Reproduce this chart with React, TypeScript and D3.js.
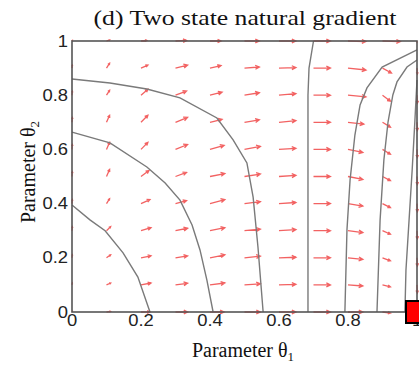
import React from 'react';
import * as d3 from 'd3';

// grid of the quiver (theta1 across, theta2 up)
const gridX = [0, 0.1, 0.2, 0.3, 0.4, 0.5, 0.6, 0.7, 0.8, 0.9, 1.0];
const gridY = [0, 0.1, 0.2, 0.3, 0.4, 0.5, 0.6, 0.7, 0.8, 0.9, 1.0];

// natural gradient components, one row per theta2 value (bottom to top)
const gradU = [
  [0.001, 0.012, 0.026, 0.035, 0.041, 0.046, 0.049, 0.049, 0.043, 0.023, 0.001],
  [0.001, 0.012, 0.029, 0.035, 0.043, 0.046, 0.049, 0.049, 0.043, 0.023, 0.001],
  [0.001, 0.012, 0.029, 0.035, 0.043, 0.046, 0.049, 0.049, 0.043, 0.023, 0.001],
  [0.001, 0.012, 0.029, 0.035, 0.043, 0.046, 0.049, 0.049, 0.043, 0.023, 0.001],
  [0.001, 0.009, 0.026, 0.032, 0.043, 0.046, 0.049, 0.049, 0.043, 0.023, 0.001],
  [0.001, 0.009, 0.023, 0.032, 0.043, 0.046, 0.049, 0.049, 0.043, 0.023, 0.001],
  [0.001, 0.009, 0.020, 0.035, 0.041, 0.046, 0.049, 0.049, 0.043, 0.023, 0.001],
  [0.001, 0.009, 0.020, 0.035, 0.035, 0.043, 0.049, 0.049, 0.046, 0.023, 0.001],
  [0.001, 0.009, 0.020, 0.032, 0.035, 0.043, 0.049, 0.049, 0.052, 0.023, 0.001],
  [0.001, 0.009, 0.020, 0.035, 0.032, 0.043, 0.049, 0.049, 0.052, 0.026, 0.001],
  [0.001, 0.009, 0.017, 0.032, 0.032, 0.043, 0.049, 0.049, 0.052, 0.052, 0],
];
const gradV = [
  [0.002, 0.002, 0, 0, 0, 0, 0, 0, 0, -0.004, -0.004],
  [0.007, 0.007, 0.007, 0.006, 0.007, 0.004, 0.002, 0, -0.004, -0.007, -0.030],
  [0.011, 0.011, 0.007, 0.007, 0.011, 0.006, 0.002, 0, -0.006, -0.011, -0.030],
  [0.015, 0.015, 0.011, 0.009, 0.011, 0.006, 0.004, 0, -0.007, -0.013, -0.030],
  [0.015, 0.018, 0.015, 0.011, 0.015, 0.007, 0.004, 0, -0.009, -0.015, -0.030],
  [0.018, 0.026, 0.022, 0.015, 0.011, 0.009, 0.004, 0, -0.011, -0.015, -0.030],
  [0.018, 0.026, 0.026, 0.018, 0.015, 0.011, 0.004, 0, -0.011, -0.018, -0.030],
  [0.018, 0.026, 0.026, 0.018, 0.011, 0.009, 0.006, 0, -0.007, -0.018, -0.030],
  [0.015, 0.018, 0.022, 0.015, 0.011, 0.009, 0.006, 0, -0.006, -0.022, -0.030],
  [0.011, 0.018, 0.011, 0.011, 0.009, 0.004, 0.002, 0, -0.007, -0.018, -0.022],
  [0.002, 0.004, 0.002, 0.002, 0, 0, 0, 0, -0.002, -0.002, -0.004],
];

// contour lines, [theta1, theta2]
const contour1: [number, number][] = [
  [0, 0.395], [0.052, 0.34], [0.096, 0.3], [0.148, 0.218], [0.191, 0.129], [0.226, 0],
];
const contour2: [number, number][] = [
  [0, 0.664], [0.11, 0.624], [0.217, 0.535], [0.27, 0.476], [0.313, 0.413],
  [0.348, 0.321], [0.371, 0.229], [0.391, 0.118], [0.409, 0],
];
const contour3: [number, number][] = [
  [0, 0.86], [0.11, 0.845], [0.217, 0.823], [0.313, 0.79], [0.42, 0.716],
  [0.467, 0.635], [0.507, 0.55], [0.525, 0.424], [0.539, 0.24], [0.554, 0],
];
const contour4: [number, number][] = [
  [0.7, 1.0], [0.687, 0.9], [0.684, 0.8], [0.684, 0],
];
const contour5: [number, number][] = [
  [1.0, 0.967], [0.899, 0.904], [0.855, 0.827], [0.835, 0.764], [0.82, 0.653],
  [0.806, 0.487], [0.797, 0.303], [0.791, 0],
];
const contour6: [number, number][] = [
  [1.0, 0.93], [0.971, 0.904], [0.942, 0.849], [0.93, 0.801], [0.916, 0.701],
  [0.904, 0.561], [0.893, 0.339], [0.884, 0],
];
const contour7: [number, number][] = [
  [1.0, 0.856], [0.994, 0.708], [0.986, 0.524], [0.977, 0.339], [0.968, 0.155], [0.965, 0],
];
const contours = [contour1, contour2, contour3, contour4, contour5, contour6, contour7];

const startPoint: [number, number] = [1, 0];

const xTicks = [0, 0.2, 0.4, 0.6, 0.8, 1];
const yTicks = [0, 0.2, 0.4, 0.6, 0.8, 1];

const W = 419;
const H = 367;

const App: React.FC = () => {
  const margin = { top: 41, right: 2, bottom: 55, left: 72 };

  const x = d3.scaleLinear().domain([0, 1]).range([margin.left, W - margin.right]);
  const y = d3.scaleLinear().domain([0, 1]).range([H - margin.bottom, margin.top]);

  const line = d3.line<[number, number]>()
    .x(d => x(d[0]))
    .y(d => y(d[1]));

  // quiver arrows: shaft + two head strokes
  const arrows: string[] = [];
  gridY.forEach((gy, j) => {
    gridX.forEach((gx, i) => {
      const x0 = x(gx);
      const y0 = y(gy);
      const x1 = x(gx + gradU[j][i]);
      const y1 = y(gy + gradV[j][i]);
      const dx = x1 - x0;
      const dy = y1 - y0;
      const len = Math.sqrt(dx * dx + dy * dy);
      if (len < 0.3) return;
      const a = Math.atan2(dy, dx);
      const h = Math.min(4.5, len * 0.35);
      const phi = 0.45;
      const p = d3.path();
      p.moveTo(x0, y0);
      p.lineTo(x1, y1);
      p.moveTo(x1 - h * Math.cos(a - phi), y1 - h * Math.sin(a - phi));
      p.lineTo(x1, y1);
      p.lineTo(x1 - h * Math.cos(a + phi), y1 - h * Math.sin(a + phi));
      arrows.push(p.toString());
    });
  });

  const sq = 22;

  return (
    <svg width={W} height={H} style={{ position: 'absolute', left: 0, top: 0, background: '#fff' }}>
      <text x={245} y={25} textAnchor="middle" fontFamily="'Liberation Serif', serif" fontSize={21}
        textLength={303} lengthAdjust="spacingAndGlyphs" fill="#111">
        (d) Two state natural gradient
      </text>

      {arrows.map((d, k) => (
        <path key={k} d={d} fill="none" stroke="#f04646" strokeWidth={1.3} strokeOpacity={0.85} />
      ))}

      {contours.map((c, k) => (
        <path key={k} d={line(c) ?? ''} fill="none" stroke="#7a7a7a" strokeWidth={1.4} />
      ))}

      <rect x={x(0)} y={y(1)} width={x(1) - x(0)} height={y(0) - y(1)}
        fill="none" stroke="#555" strokeWidth={1.6} />

      {xTicks.map(t => (
        <text key={t} transform={`translate(${x(t)},${H - margin.bottom + 14}) scale(1.15,1)`}
          textAnchor="middle" fontFamily="'Liberation Sans', Arial, sans-serif" fontSize={16}
          fill="#222">{String(t)}</text>
      ))}
      {yTicks.map(t => (
        <text key={t} transform={`translate(${margin.left - 4},${y(t) + 5.5}) scale(1.15,1)`}
          textAnchor="end" fontFamily="'Liberation Sans', Arial, sans-serif" fontSize={16}
          fill="#222">{String(t)}</text>
      ))}

      <text x={243} y={357} textAnchor="middle" fontFamily="'Liberation Serif', serif" fontSize={20} fill="#111">
        Parameter θ<tspan fontSize={13} dy={4}>1</tspan>
      </text>
      <text transform={`translate(35,172) rotate(-90)`} textAnchor="middle"
        fontFamily="'Liberation Serif', serif" fontSize={20} fill="#111">
        Parameter θ<tspan fontSize={13} dy={4}>2</tspan>
      </text>

      <rect x={x(startPoint[0]) - sq / 2} y={y(startPoint[1]) - sq / 2} width={sq} height={sq}
        fill="#ff0000" stroke="#000" strokeWidth={2} />
    </svg>
  );
};

export default App;
